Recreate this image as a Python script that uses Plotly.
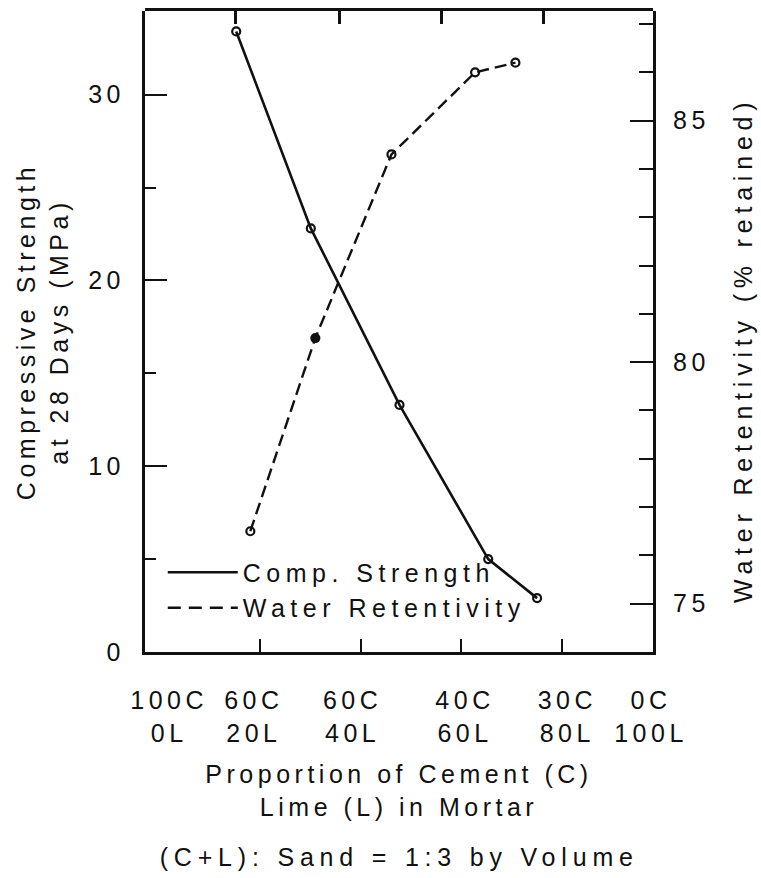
import plotly.graph_objects as go

# Mortar mixes: proportion of cement (C) and lime (L) by volume
CATEGORY_LABELS = ["100C<br>0L", "60C<br>20L", "60C<br>40L", "40C<br>60L", "30C<br>80L", "0C<br>100L"]
CATEGORY_POS = [2, 18.8, 38.4, 60.7, 81, 97.6]      # where each mix label sits on the lime axis
BOTTOM_TICKS = [20, 40, 60, 80]
TOP_TICKS = [15.2, 35.7, 56.1, 76.3]

# Compressive strength at 28 days (MPa)
strength_x = [15.3, 30.1, 47.7, 65.3, 75.0]
strength_y = [33.4, 22.8, 13.3, 5.0, 2.9]

# Water retentivity (% retained)
water_x = [18.1, 31.0, 46.1, 62.7, 70.7]
water_y = [76.5, 80.5, 84.3, 86.0, 86.2]
water_symbols = ["circle-open", "circle", "circle-open", "circle-open", "circle-open"]

FONT = "Liberation Sans, Arial, sans-serif"
INK = "#111111"
X_RANGE = [-2.8, 98.0]

fig = go.Figure()

fig.add_trace(go.Scatter(
    x=strength_x, y=strength_y, mode="lines+markers", name="Comp. Strength",
    line=dict(color=INK, width=2.6),
    marker=dict(symbol="circle-open", size=8, color=INK, line=dict(width=2.2)),
    showlegend=False, xaxis="x", yaxis="y",
))
fig.add_trace(go.Scatter(
    x=water_x, y=water_y, mode="lines+markers", name="Water Retentivity",
    line=dict(color=INK, width=2.4, dash="12px,6px"),
    marker=dict(symbol=water_symbols, size=8, color=INK, line=dict(width=2.2, color=INK)),
    showlegend=False, xaxis="x", yaxis="y2",
))

# empty traces so the top frame axis and the mix-label axis are laid out
fig.add_trace(go.Scatter(x=[None], y=[None], xaxis="x2", yaxis="y3",
                         mode="lines", showlegend=False, hoverinfo="skip"))
fig.add_trace(go.Scatter(x=[None], y=[None], xaxis="x3", yaxis="y",
                         mode="lines", showlegend=False, hoverinfo="skip"))

# legend entries (line samples only)
fig.add_trace(go.Scatter(x=[None], y=[None], mode="lines", name="Comp. Strength",
                         line=dict(color=INK, width=2.6)))
fig.add_trace(go.Scatter(x=[None], y=[None], mode="lines", name="Water Retentivity",
                         line=dict(color=INK, width=2.6, dash="13px,8px")))

axis_font = dict(family=FONT, size=25, color=INK)

fig.update_layout(
    width=761, height=878,
    margin=dict(l=145, r=108, t=11, b=226),
    paper_bgcolor="white", plot_bgcolor="rgba(0,0,0,0)",
    font=axis_font,
    xaxis=dict(
        range=X_RANGE, tickmode="array", tickvals=BOTTOM_TICKS,
        ticks="inside", ticklen=13, tickwidth=2, tickcolor=INK,
        showticklabels=False, showgrid=False, zeroline=False,
        showline=True, linewidth=3, linecolor=INK,
        title=dict(text="Proportion of Cement (C)<br>Lime (L) in Mortar",
                   font=axis_font, standoff=112),
        automargin=False,
    ),
    xaxis3=dict(
        overlaying="x", anchor="y", side="bottom", range=X_RANGE,
        tickmode="array", tickvals=CATEGORY_POS, ticktext=CATEGORY_LABELS,
        ticks="", showgrid=False, zeroline=False, showline=False,
        tickfont=axis_font, ticklabelstandoff=31, automargin=False,
    ),
    # top edge of the frame, on its own subplot sharing the same area
    xaxis2=dict(
        anchor="y3", side="top", range=X_RANGE, domain=[0, 1],
        tickmode="array", tickvals=TOP_TICKS,
        ticks="inside", ticklen=13, tickwidth=2.5, tickcolor=INK,
        showticklabels=False, showgrid=False, zeroline=False,
        showline=True, linewidth=3, linecolor=INK, automargin=False,
    ),
    yaxis3=dict(anchor="x2", domain=[0, 1], range=[0, 1], visible=False),
    yaxis=dict(
        range=[0, 34.5], tickmode="linear", tick0=0, dtick=10,
        ticks="inside", ticklen=22, tickwidth=2, tickcolor=INK,
        minor=dict(tickmode="linear", tick0=5, dtick=10, ticks="inside",
                   ticklen=11, tickwidth=2, tickcolor=INK, showgrid=False),
        showgrid=False, zeroline=False,
        showline=True, linewidth=3, linecolor=INK,
        tickfont=axis_font, ticklabelstandoff=12,
        title=dict(text="Compressive Strength<br>at 28 Days (MPa)", font=axis_font, standoff=22),
        automargin=False,
    ),
    yaxis2=dict(
        overlaying="y", side="right", anchor="x",
        range=[74.0, 87.27], tickmode="linear", tick0=75, dtick=5,
        ticks="inside", ticklen=23, tickwidth=2, tickcolor=INK,
        minor=dict(tickmode="linear", tick0=75, dtick=1, ticks="inside",
                   ticklen=14, tickwidth=2, tickcolor=INK, showgrid=False),
        showgrid=False, zeroline=False,
        showline=True, linewidth=3, linecolor=INK,
        tickfont=axis_font, ticklabelstandoff=12,
        automargin=False,
    ),
    legend=dict(
        x=0.035, y=0.16, xanchor="left", yanchor="top",
        bgcolor="rgba(0,0,0,0)", font=axis_font, itemwidth=70,
        tracegroupgap=0,
    ),
    annotations=[
        dict(
            text="Water Retentivity (% retained)", textangle=-90,
            xref="paper", yref="paper", x=1, y=0.471, xshift=90,
            xanchor="center", yanchor="middle", showarrow=False,
            font=dict(family=FONT, size=25, color=INK),
        ),
        dict(
            text="(C+L): Sand = 1:3 by Volume", xref="paper", yref="paper",
            x=0.5, y=-0.32, xanchor="center", yanchor="middle", showarrow=False,
            font=axis_font,
        ),
    ],
)

# widen the letter spacing of all chart lettering; let legend text run past its box
tracking = (
    "var s=document.createElement('style');"
    "s.textContent='.main-svg text{letter-spacing:4.5px;} "
    ".main-svg .annotation-text-g text{letter-spacing:5.8px;} "
    ".main-svg .legend text{letter-spacing:5.5px;} "
    ".legend .scrollbox{clip-path:none !important;}';"
    "document.head.appendChild(s);"
)

fig.write_html("out.html", post_script=tracking)
